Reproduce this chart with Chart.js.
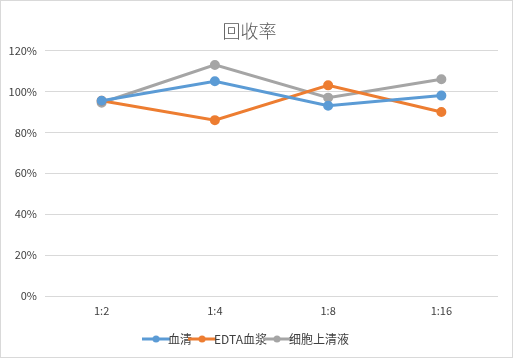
<!DOCTYPE html>
<html><head><meta charset="utf-8">
<script src="https://cdn.jsdelivr.net/npm/chart.js@4"></script>
<style>
html,body{margin:0;padding:0;background:#fff;}
#wrap{position:relative;width:513px;height:358px;box-sizing:border-box;border:1px solid #d9d9d9;background:#fff;}
canvas{display:block;}
</style></head><body>
<div id="wrap"><canvas id="c" width="511" height="356"></canvas></div>
<script>
const categories = ['1:2','1:4','1:8','1:16'];
const serum = [0.955, 1.05, 0.93, 0.98];
const edtaPlasma = [0.955, 0.86, 1.03, 0.90];
const supernatant = [0.945, 1.13, 0.97, 1.06];
const seriesNames = ['血清','EDTA血浆','细胞上清液'];
const colors = ['#5b9bd5','#ed7d31','#a5a5a5'];

function legendIcon(color){
  const c = document.createElement('canvas');
  c.width = 28; c.height = 10;
  const x = c.getContext('2d');
  x.strokeStyle = color; x.lineWidth = 3;
  x.beginPath(); x.moveTo(0,5); x.lineTo(28,5); x.stroke();
  x.fillStyle = color; x.beginPath(); x.arc(14,5,3.5,0,Math.PI*2); x.fill();
  return c;
}
const font = "'Noto Sans CJK SC', 'Noto Sans', sans-serif";
const data = [serum, edtaPlasma, supernatant];
new Chart(document.getElementById('c'), {
  type: 'line',
  data: {
    labels: categories,
    datasets: data.map((d,i)=>({
      label: seriesNames[i], data: d,
      borderColor: colors[i], backgroundColor: colors[i],
      borderWidth: 3, pointRadius: 3.5, pointHoverRadius: 3.5,
      pointStyle: 'circle', tension: 0, fill: false
    }))
  },
  options: {
    responsive: false, animation: false,
    layout: {padding: {left: 0, right: 14, top: 0, bottom: 2}},
    plugins: {
      title: {display: true, text: '回收率', color: '#595959',
        font: {family: font, size: 18, weight: 300}, padding: {top: 19, bottom: 9}},
      legend: {position: 'bottom',
        labels: {color: '#404040', font: {family: font, size: 12}, usePointStyle: true,
          boxWidth: 28, boxHeight: 10, padding: 4,
          generateLabels: (chart)=> chart.data.datasets.map((ds,i)=>({
            text: ds.label, pointStyle: legendIcon(colors[i]), fontColor: '#404040',
            strokeStyle: colors[i], fillStyle: colors[i], lineWidth: 0, datasetIndex: i, hidden: false
          }))
        }},
      tooltip: {enabled: false}
    },
    scales: {
      x: {offset: true, grid: {display: false}, border: {display: false},
        ticks: {color: '#404040', font: {family: font, size: 11}, padding: 0},
        afterFit: s => { s.height = 33; }},
      y: {min: 0, max: 1.2, grid: {color: '#d9d9d9', drawTicks: false}, border: {display: false},
        ticks: {stepSize: 0.2, color: '#404040', font: {family: font, size: 11}, padding: 8,
          callback: v => Math.round(v*100) + '%'},
        afterFit: s => { s.width = 44; }}
    }
  }
});
</script>
</body></html>
